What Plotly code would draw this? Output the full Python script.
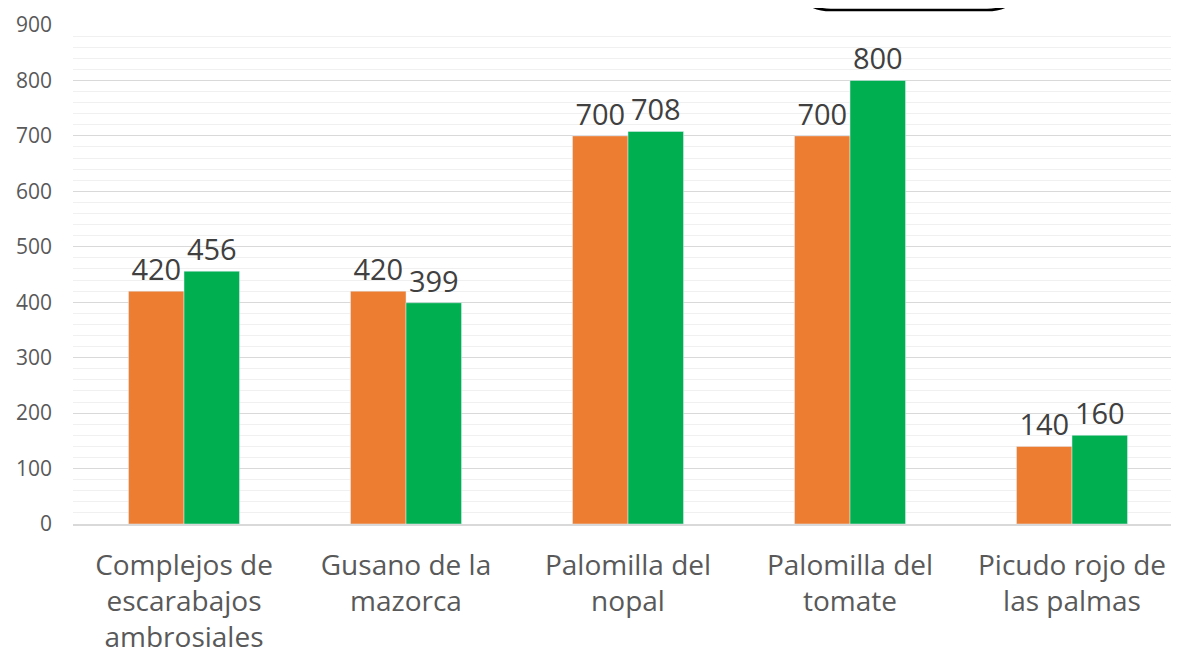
import plotly.graph_objects as go

categories = ["Complejos de<br>escarabajos<br>ambrosiales", "Gusano de la<br>mazorca",
              "Palomilla del<br>nopal", "Palomilla del<br>tomate", "Picudo rojo de<br>las palmas"]
serie_naranja = [420, 420, 700, 700, 140]
serie_verde = [456, 399, 708, 800, 160]
y_ticks = [0, 100, 200, 300, 400, 500, 600, 700, 800, 900]

# page has 8px body margin: compensate
OFF = 8
W, H = 1179 - OFF, 654 - OFF
L, R, T, B = 73 - OFF, 0, 25 - OFF, 130
FONT = "Open Sans"

fig = go.Figure()
fig.add_trace(go.Bar(x=categories, y=serie_naranja, marker_color="#ED7D31",
                     text=serie_naranja, textposition="outside", cliponaxis=False,
                     textfont=dict(size=29, color="#404040", family=FONT)))
fig.add_trace(go.Bar(x=categories, y=serie_verde, marker_color="#00B050",
                     text=serie_verde, textposition="outside", cliponaxis=False,
                     textfont=dict(size=29, color="#404040", family=FONT)))

# decorative rounded box (cut-off legend frame) at top, in page pixels
pw, ph = W - L - R, H - T - B
def px(x):
    return (x - OFF - L) / pw
def py(y):
    return (H - B - (y - OFF)) / ph
x0, x1, yb, ytop, rx, ry = 799, 1019, 10, -40, 32, 30
path = (f"M {px(x0)},{py(ytop)} L {px(x0)},{py(yb - ry)} "
        f"Q {px(x0)},{py(yb)} {px(x0 + rx)},{py(yb)} "
        f"L {px(x1 - rx)},{py(yb)} Q {px(x1)},{py(yb)} {px(x1)},{py(yb - ry)} "
        f"L {px(x1)},{py(ytop)}")

fig.update_layout(
    width=W, height=H,
    margin=dict(l=L, r=R, t=T, b=B),
    barmode="group", bargap=0.5, bargroupgap=0,
    showlegend=False,
    plot_bgcolor="white", paper_bgcolor="white",
    font=dict(family=FONT, color="#595959"),
    shapes=[dict(type="path", path=path, xref="paper", yref="paper",
                 line=dict(color="black", width=2.7), layer="above")],
    xaxis=dict(range=[-0.5, 4.5 - 4 / 222], showgrid=False, showline=True,
               linecolor="#d9d9d9", linewidth=2, ticks="", automargin=False,
               tickfont=dict(size=28, color="#595959", family=FONT),
               ticklabelstandoff=15, fixedrange=True),
    yaxis=dict(range=[0, 900], tickvals=y_ticks, showgrid=True, gridcolor="#d9d9d9",
               gridwidth=1.3, zeroline=False, automargin=False,
               minor=dict(dtick=20, showgrid=True, gridcolor="#f0f0f0", gridwidth=1),
               tickfont=dict(size=21, color="#595959", family=FONT),
               ticklabelstandoff=20),
)

fig.write_html("out.html")
